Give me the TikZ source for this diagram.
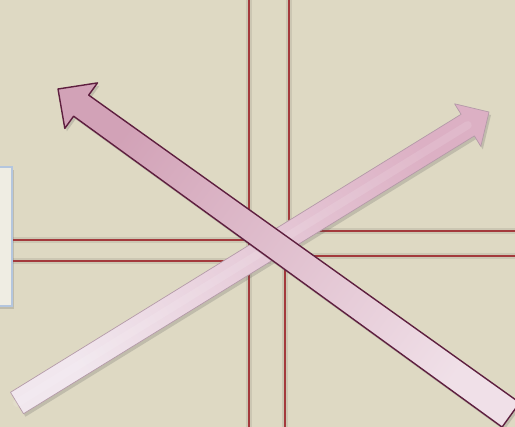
\documentclass[tikz,border=0pt]{standalone}
\usetikzlibrary{shadows,calc}
\definecolor{bg}{HTML}{DED9C3}
\definecolor{redline}{HTML}{A33A3C}
\definecolor{boxfill}{HTML}{EFEDE3}
\definecolor{boxline}{HTML}{B4C6DE}
\definecolor{aonehead}{HTML}{D2A2B7}
\definecolor{aonetail}{HTML}{F0E0E8}
\definecolor{aoneline}{HTML}{5E1F3F}
\definecolor{atwohead}{HTML}{DCB0C4}
\definecolor{atwotail}{HTML}{F1E7EE}
\definecolor{atwoline}{HTML}{B49AA8}
\tikzset{
  guide/.style={draw=redline, line width=2.3pt},
  guideshadow/.style={draw=black, opacity=0.08, line width=6pt},
  softshadow/.style={drop shadow={shadow xshift=2pt, shadow yshift=-3pt, opacity=0.2, fill=black!70}},
}
\begin{document}
\begin{tikzpicture}[x=1pt,y=-1pt]
\fill[bg] (0,0) rectangle (515,427);
\useasboundingbox (0,0) rectangle (515,427);
% left box
\path[softshadow, fill=boxfill, draw=boxline, line width=1.5pt] (-6,167) rectangle (12,306);
% guide line coordinates
\coordinate (vlt) at (249,-2); \coordinate (vlb) at (249,429);
\coordinate (vrt) at (289,-2); \coordinate (vrm) at (289,246);
\coordinate (vrm2) at (285,246); \coordinate (vrb) at (285,429);
\coordinate (hul) at (13,240); \coordinate (hum) at (271,240);
\coordinate (hum2) at (271,231); \coordinate (hur) at (517,231);
\coordinate (hll) at (13,261); \coordinate (hlm) at (271,261);
\coordinate (hlm2) at (271,256); \coordinate (hlr) at (517,256);
% shadows of guide lines
\begin{scope}[yshift=-3pt, xshift=1.5pt]
\draw[guideshadow] (vlt) -- (vlb);
\draw[guideshadow] (vrt) -- (vrm);
\draw[guideshadow] (vrm2) -- (vrb);
\draw[guideshadow] (hul) -- (hum);
\draw[guideshadow] (hum2) -- (hur);
\draw[guideshadow] (hll) -- (hlm);
\draw[guideshadow] (hlm2) -- (hlr);
\end{scope}
\draw[guide] (vlt) -- (vlb);
\draw[guide] (vrt) -- (vrm);
\draw[guide] (vrm2) -- (vrb);
\draw[guide] (hul) -- (hum);
\draw[guide] (hum2) -- (hur);
\draw[guide] (hll) -- (hlm);
\draw[guide] (hlm2) -- (hlr);
% arrow 2 (pointing up-right)
\coordinate (btip) at (489,112);
\coordinate (bha) at (454.6,103.8);
\coordinate (bna) at (461.1,114.3);
\coordinate (bta) at (10.5,392.3);
\coordinate (btb) at (23.5,413.7);
\coordinate (bnb) at (474.4,135.9);
\coordinate (bhb) at (480.8,146.4);
\path[softshadow, top color=atwohead, bottom color=atwotail, shading angle=-58.3,
      draw=atwoline, line width=0.7pt, line join=round]
  (btip) -- (bha) -- (bna) -- (bta) -- (btb) -- (bnb) -- (bhb) -- cycle;
\draw[white, opacity=0.12, line width=8pt, line cap=round] ($(bta)!0.5!(btb)$) -- ($(bna)!0.5!(bnb)$);
% arrow 1 (pointing up-left)
\coordinate (atip) at (58,89);
\coordinate (aha) at (97.5,82.9);
\coordinate (ana) at (88.7,95.1);
\coordinate (ata) at (519.7,402.7);
\coordinate (atb) at (502.1,427.1);
\coordinate (anb) at (73.6,116.2);
\coordinate (ahb) at (64.8,128.4);
\path[softshadow, top color=aonehead, bottom color=aonetail, shading angle=53.6,
      draw=aoneline, line width=1.4pt, line join=round]
  (atip) -- (aha) -- (ana) -- (ata) -- (atb) -- (anb) -- (ahb) -- cycle;
\end{tikzpicture}
\end{document}
